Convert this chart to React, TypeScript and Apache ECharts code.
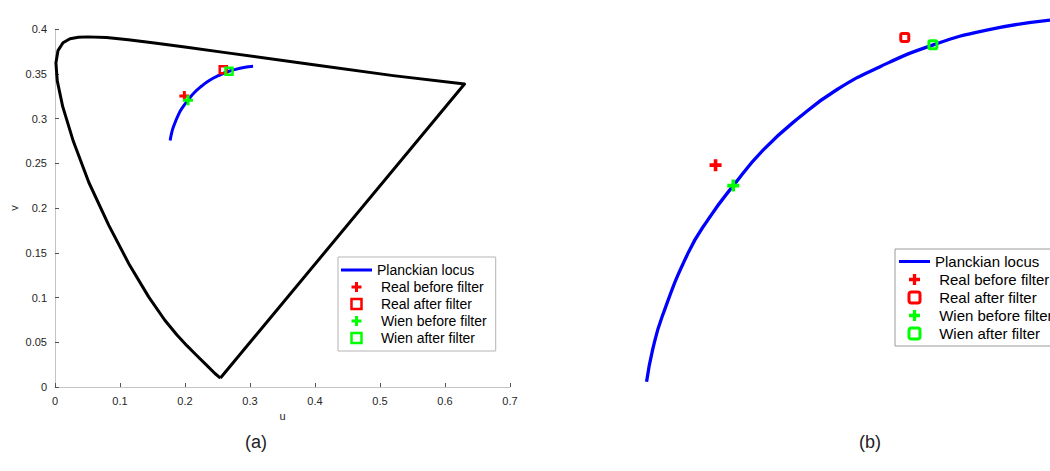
import React, { useEffect, useRef } from 'react';
import * as echarts from 'echarts';

// Spectral locus (CIE 1960 u, v)
const spectralU = [0.2545, 0.2461, 0.2347, 0.2161, 0.2033, 0.1877, 0.1690, 0.1441, 0.1147, 0.0828, 0.0521, 0.0282, 0.0119, 0.0035, 0.0014, 0.0046, 0.0123, 0.0231, 0.0360, 0.0501, 0.0792, 0.1127, 0.1531, 0.2026, 0.2623, 0.4035, 0.5203, 0.6300, 0.2545];
const spectralV = [0.0100, 0.0151, 0.0233, 0.0366, 0.0459, 0.0581, 0.0746, 0.1007, 0.1362, 0.1806, 0.2285, 0.2745, 0.3132, 0.3420, 0.3621, 0.3759, 0.3846, 0.3891, 0.3908, 0.3912, 0.3904, 0.3880, 0.3844, 0.3796, 0.3736, 0.3596, 0.3479, 0.3385, 0.0100];

// Planckian locus
const planckU = [0.1772, 0.1791, 0.1821, 0.1903, 0.1969, 0.2046, 0.2141, 0.2257, 0.2373, 0.2510, 0.2678, 0.2847, 0.3047];
const planckV = [0.2755, 0.2828, 0.2904, 0.3050, 0.3130, 0.3205, 0.3287, 0.3363, 0.3425, 0.3478, 0.3528, 0.3562, 0.3585];

// Measured points [u, v]
const realBefore = [0.1990, 0.3252];
const realAfter = [0.2588, 0.3545];
const wienBefore = [0.2046, 0.3205];
const wienAfter = [0.2677, 0.3528];

const legendNames = ['Planckian locus', 'Real before filter', 'Real after filter', 'Wien before filter', 'Wien after filter'];
const captions = ['(a)', '(b)'];

const PLUS = 'path://M3.5,0H6.5V3.5H10V6.5H6.5V10H3.5V6.5H0V3.5H3.5Z';
const SQUARE = 'path://M0,0H10V10H0Z';
const RSQUARE = 'path://M2,0H8A2,2,0,0,1,10,2V8A2,2,0,0,1,8,10H2A2,2,0,0,1,0,8V2A2,2,0,0,1,2,0Z';
const LINE_ICON = 'path://M0,0H31V3H0Z';

const RED = '#ff0000';
const GREEN = '#00ff00';
const BLUE = '#0000ff';
const FONT = '"Liberation Sans", Arial, Helvetica, sans-serif';

const zip = (u: number[], v: number[]) => u.map((x, i) => [x, v[i]]);

function markerSeries(idx: number, big: boolean) {
  const plusSize = big ? 12 : 10;
  const sqSize = big ? 8 : 7;
  const bw = big ? 3 : 2.5;
  const sq = big ? RSQUARE : SQUARE;
  const common = { xAxisIndex: idx, yAxisIndex: idx, silent: true, emphasis: { disabled: true } };
  return [
    { ...common, type: 'scatter', name: legendNames[1], data: [realBefore], symbol: PLUS, symbolSize: plusSize, itemStyle: { color: RED, borderWidth: 0, opacity: 1 }, z: 3 },
    { ...common, type: 'scatter', name: legendNames[2], data: [realAfter], symbol: sq, symbolSize: sqSize, itemStyle: { color: 'rgba(0,0,0,0)', borderColor: RED, borderWidth: bw, opacity: 1 }, z: 3 },
    { ...common, type: 'scatter', name: legendNames[3], data: [wienBefore], symbol: PLUS, symbolSize: plusSize, itemStyle: { color: GREEN, borderWidth: 0, opacity: 1 }, z: 4 },
    { ...common, type: 'scatter', name: legendNames[4], data: [wienAfter], symbol: sq, symbolSize: sqSize, itemStyle: { color: 'rgba(0,0,0,0)', borderColor: GREEN, borderWidth: bw, opacity: 1 }, z: 4 },
  ];
}

function legendData(big: boolean) {
  const sq = big ? RSQUARE : SQUARE;
  const bw = big ? 3 : 2.5;
  return [
    { name: legendNames[0], icon: LINE_ICON, itemStyle: { color: BLUE, borderWidth: 0, opacity: 1 } },
    { name: legendNames[1], icon: PLUS, itemStyle: { color: RED, borderWidth: 0, opacity: 1 } },
    { name: legendNames[2], icon: sq, itemStyle: { color: 'rgba(0,0,0,0)', borderColor: RED, borderWidth: bw, opacity: 1 } },
    { name: legendNames[3], icon: PLUS, itemStyle: { color: GREEN, borderWidth: 0, opacity: 1 } },
    { name: legendNames[4], icon: sq, itemStyle: { color: 'rgba(0,0,0,0)', borderColor: GREEN, borderWidth: bw, opacity: 1 } },
  ];
}

export default function App() {
  const ref = useRef<HTMLDivElement>(null);
  useEffect(() => {
    if (!ref.current) return;
    const chart = echarts.init(ref.current, null, { renderer: 'svg' });
    const axisLabel = { color: '#262626', fontSize: 11, fontFamily: FONT, margin: 8 };
    const option: any = {
      animation: false,
      backgroundColor: '#ffffff',
      grid: [
        { left: 55, top: 29, width: 455, height: 358 },
        { left: 620, top: 10, width: 430, height: 380 },
      ],
      xAxis: [
        {
          type: 'value', gridIndex: 0, min: 0, max: 0.7, interval: 0.1,
          name: 'u', nameLocation: 'middle', nameGap: 21,
          nameTextStyle: { color: '#262626', fontSize: 11, fontFamily: FONT },
          axisLine: { show: true, lineStyle: { color: '#c4c4c4', width: 1 } },
          axisTick: { show: true, inside: true, length: 4, lineStyle: { color: '#555' } },
          axisLabel, splitLine: { show: false },
        },
        { type: 'value', gridIndex: 1, min: 0.1688, max: 0.3047, show: false, splitLine: { show: false } },
      ],
      yAxis: [
        {
          type: 'value', gridIndex: 0, min: 0, max: 0.4, interval: 0.05,
          name: 'v', nameLocation: 'middle', nameGap: 36,
          nameTextStyle: { color: '#262626', fontSize: 11, fontFamily: FONT },
          axisLine: { show: true, lineStyle: { color: '#c4c4c4', width: 1 } },
          axisTick: { show: true, inside: true, length: 4, lineStyle: { color: '#555' } },
          axisLabel, splitLine: { show: false },
        },
        { type: 'value', gridIndex: 1, min: 0.2736, max: 0.3608, show: false, splitLine: { show: false } },
      ],
      legend: [
        {
          orient: 'vertical', left: 338, top: 257,
          padding: [6, 9, 6, 3], itemWidth: 31, itemHeight: 10, itemGap: 3,
          backgroundColor: '#ffffff', borderColor: '#b4b4b4', borderWidth: 1, borderRadius: 0,
          textStyle: { color: '#000', fontSize: 14, fontFamily: FONT },
          formatter: (n: string) => (n === legendNames[0] ? n : ' ' + n),
          selectedMode: false,
          data: legendData(false),
        },
        {
          orient: 'vertical', left: 895, top: 249,
          padding: [5, 9, 5, 4], itemWidth: 31, itemHeight: 11, itemGap: 3,
          backgroundColor: '#ffffff', borderColor: '#9a9a9a', borderWidth: 1, borderRadius: 0,
          textStyle: { color: '#000', fontSize: 15, fontFamily: FONT },
          formatter: (n: string) => (n === legendNames[0] ? n : ' ' + n),
          selectedMode: false,
          data: legendData(true),
        },
      ],
      graphic: [
        { type: 'text', x: 256, y: 442, style: { text: captions[0], fontSize: 18, fontFamily: FONT, fill: '#222', align: 'center', verticalAlign: 'middle' } },
        { type: 'text', x: 870, y: 442, style: { text: captions[1], fontSize: 18, fontFamily: FONT, fill: '#222', align: 'center', verticalAlign: 'middle' } },
      ],
      series: [
        {
          type: 'line', name: 'Spectral locus', xAxisIndex: 0, yAxisIndex: 0,
          data: zip(spectralU, spectralV), symbol: 'none', showSymbol: false,
          lineStyle: { color: '#000', width: 3, join: 'round' }, itemStyle: { color: '#000' }, z: 1, silent: true,
        },
        {
          type: 'line', name: legendNames[0], xAxisIndex: 0, yAxisIndex: 0,
          data: zip(planckU, planckV), smooth: 0.5, symbol: 'none', showSymbol: false,
          lineStyle: { color: BLUE, width: 3 }, itemStyle: { color: BLUE }, z: 2, silent: true,
        },
        ...markerSeries(0, false),
        {
          type: 'line', name: legendNames[0], xAxisIndex: 1, yAxisIndex: 1,
          data: zip(planckU, planckV), smooth: 0.5, symbol: 'none', showSymbol: false,
          lineStyle: { color: BLUE, width: 3.3 }, itemStyle: { color: BLUE }, z: 2, silent: true,
        },
        ...markerSeries(1, true),
      ],
    };
    chart.setOption(option);
    return () => chart.dispose();
  }, []);
  return <div ref={ref} style={{ position: 'absolute', left: 0, top: 0, width: 1050, height: 471 }} />;
}
